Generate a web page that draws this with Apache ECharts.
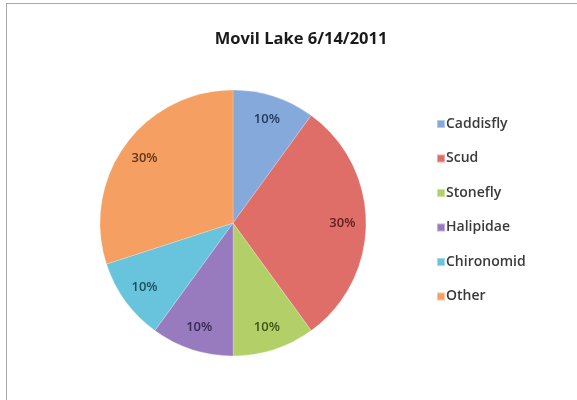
<!DOCTYPE html>
<html>
<head>
<meta charset="utf-8">
<script src="https://cdn.jsdelivr.net/npm/echarts@6/dist/echarts.min.js"></script>
<style>
  html, body { margin: 0; padding: 0; background: #ffffff; }
  #frame { position: absolute; left: 6px; top: 3px; width: 571px; height: 397px;
           border-left: 1px solid #a9a9a9; border-top: 1px solid #a9a9a9; box-sizing: border-box; }
  #chart { position: absolute; left: 0; top: 0; width: 577px; height: 400px; }
</style>
</head>
<body>
<div id="frame"></div>
<div id="chart"></div>
<script>
// Invertebrate sample composition
const titleText = 'Movil Lake 6/14/2011';
const categories = ['Caddisfly', 'Scud', 'Stonefly', 'Halipidae', 'Chironomid', 'Other'];
const percents = [10, 30, 10, 10, 10, 30];

const sliceColors = ['#86a9dc', '#df6e69', '#b2d067', '#987bbf', '#68c3dc', '#f5a062'];
const labelColors = ['#1f3558', '#5c1f1c', '#3b4f16', '#3a2756', '#1d4f5e', '#5e3413'];

const fontFam = '"Open Sans", "Liberation Sans", sans-serif';
const center = [233, 223];
const R = 133;

const sliceData = categories.map((name, i) => ({
  name: name,
  value: percents[i],
  itemStyle: { color: sliceColors[i] }
}));

const labelData = categories.map((name, i) => ({
  name: name,
  value: percents[i],
  label: { color: labelColors[i] }
}));

const chart = echarts.init(document.getElementById('chart'), null, { renderer: 'canvas' });
chart.setOption({
  animation: false,
  backgroundColor: 'transparent',
  color: sliceColors,
  title: {
    text: titleText,
    left: 296,
    textAlign: 'center',
    top: 26,
    textStyle: { fontFamily: fontFam, fontSize: 16.5, fontWeight: 'bold', color: '#1a1a1a' }
  },
  legend: {
    orient: 'vertical',
    left: 431,
    top: 112,
    itemWidth: 8,
    itemHeight: 8,
    itemGap: 20.5,
    icon: 'rect',
    data: categories,
    textStyle: { fontFamily: fontFam, fontSize: 14, fontWeight: 600, color: '#3a3a3a', padding: [0, 0, 0, -4] }
  },
  series: [
    {
      name: 'slices',
      type: 'pie',
      center: center,
      radius: R,
      startAngle: 90,
      clockwise: true,
      label: { show: false },
      labelLine: { show: false },
      itemStyle: { borderColor: 'rgba(255,255,255,0.4)', borderWidth: 0.5 },
      emphasis: { disabled: true },
      data: sliceData
    },
    {
      name: 'labels',
      type: 'pie',
      center: center,
      radius: [R * 0.6, R],
      startAngle: 90,
      clockwise: true,
      silent: true,
      legendHoverLink: false,
      itemStyle: { color: 'rgba(0,0,0,0)', borderWidth: 0 },
      label: {
        show: true,
        position: 'inside',
        formatter: '{c}%',
        fontFamily: fontFam,
        fontSize: 13,
        fontWeight: 600
      },
      labelLine: { show: false },
      emphasis: { disabled: true },
      data: labelData
    }
  ]
});
</script>
</body>
</html>
